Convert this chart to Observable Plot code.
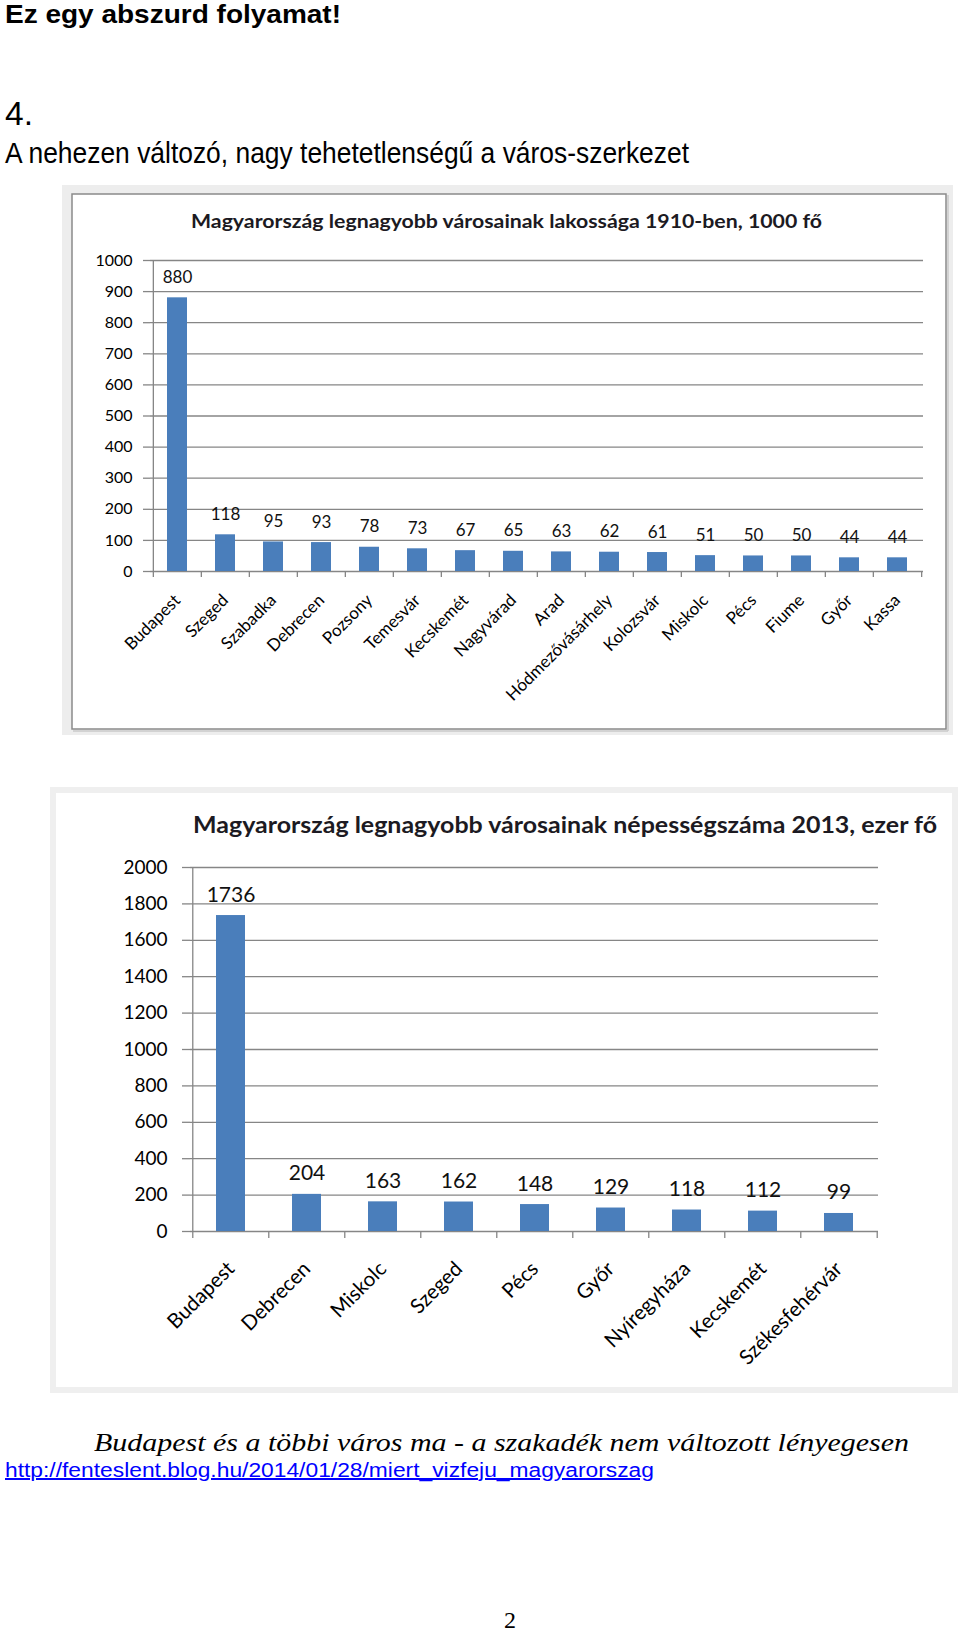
<!DOCTYPE html>
<html>
<head>
<meta charset="utf-8">
<script src="https://cdn.jsdelivr.net/npm/d3@7"></script>
<script src="https://cdn.jsdelivr.net/npm/@observablehq/plot@0.6"></script>
<style>
  html, body { margin: 0; padding: 0; background: #fff; }
  #page { position: relative; width: 960px; height: 1632px; overflow: hidden; }
  #page > svg.bg { position: absolute; left: 0; top: 0; }
  .chart { position: absolute; }
  .chart svg { display: block; background: transparent !important; max-width: none !important; }
  .chart g[aria-label^="y-axis"] line,
  .chart g[aria-label="y-axis tick"] path { stroke: #868686; stroke-width: 1.3; }
  #c1 g[aria-label^="x-axis"] text { font-size: 17px; }
  #c2 g[aria-label^="x-axis"] text { font-size: 20.5px; }
</style>
</head>
<body>
<div id="page">
  <svg class="bg" width="960" height="1632" xmlns="http://www.w3.org/2000/svg">
    <text x="5" y="23" font-family="Liberation Sans, Arial, sans-serif" font-weight="bold" font-size="25" textLength="336" lengthAdjust="spacingAndGlyphs">Ez egy abszurd folyamat!</text>
    <text x="5" y="125" font-family="Liberation Sans, Arial, sans-serif" font-size="34" textLength="28" lengthAdjust="spacingAndGlyphs">4.</text>
    <text x="5" y="163" font-family="Liberation Sans, Arial, sans-serif" font-size="29" textLength="684" lengthAdjust="spacingAndGlyphs">A nehezen változó, nagy tehetetlenségű a város-szerkezet</text>

    <!-- chart 1 frame -->
    <rect x="62" y="185" width="891" height="550" fill="#ededed"/>
    <rect x="72" y="194" width="874" height="535" fill="#ffffff" stroke="#8a8a8a" stroke-width="1.5"/>
    <line x1="73" y1="731" x2="948" y2="731" stroke="#c8c8c8" stroke-width="1.5"/>
    <line x1="948" y1="195" x2="948" y2="731" stroke="#c8c8c8" stroke-width="1.5"/>
    <text x="191" y="228" font-family="Lato, sans-serif" font-weight="bold" font-size="19" fill="#1c1a22" textLength="631" lengthAdjust="spacingAndGlyphs">Magyarország legnagyobb városainak lakossága 1910-ben, 1000 fő</text>

    <!-- chart 2 frame -->
    <rect x="50" y="787" width="908" height="606" fill="#efefef"/>
    <rect x="56" y="793" width="896" height="594" fill="#ffffff"/>
    <text x="193" y="833" font-family="Lato, sans-serif" font-weight="bold" font-size="22" fill="#1c1a22" textLength="744" lengthAdjust="spacingAndGlyphs">Magyarország legnagyobb városainak népességszáma 2013, ezer fő</text>

    <text x="94" y="1451" font-family="Liberation Serif, serif" font-style="italic" font-size="26" textLength="815" lengthAdjust="spacingAndGlyphs">Budapest és a többi város ma - a szakadék nem változott lényegesen</text>
    <text x="5" y="1477" font-family="Liberation Sans, Arial, sans-serif" font-size="20" fill="#0000ff" text-decoration="underline" textLength="649" lengthAdjust="spacingAndGlyphs">http://fenteslent.blog.hu/2014/01/28/miert_vizfeju_magyarorszag</text>
    <text x="504" y="1628" font-family="Liberation Serif, serif" font-size="24">2</text>
  </svg>
  <div id="c1" class="chart" style="left:72px; top:194px; width:874px; height:535px;"></div>
  <div id="c2" class="chart" style="left:56px; top:793px; width:896px; height:594px;"></div>
</div>
<script>
// ---- data ----
const cities1910 = ["Budapest", "Szeged", "Szabadka", "Debrecen", "Pozsony", "Temesvár", "Kecskemét", "Nagyvárad", "Arad", "Hódmezővásárhely", "Kolozsvár", "Miskolc", "Pécs", "Fiume", "Győr", "Kassa"];
const pop1910 = [880, 118, 95, 93, 78, 73, 67, 65, 63, 62, 61, 51, 50, 50, 44, 44];
const ticks1910 = [0, 100, 200, 300, 400, 500, 600, 700, 800, 900, 1000];

const cities2013 = ["Budapest", "Debrecen", "Miskolc", "Szeged", "Pécs", "Győr", "Nyíregyháza", "Kecskemét", "Székesfehérvár"];
const pop2013 = [1736, 204, 163, 162, 148, 129, 118, 112, 99];
const ticks2013 = [0, 200, 400, 600, 800, 1000, 1200, 1400, 1600, 1800, 2000];

const barColor = "#4a7ebb";
const gridColor = "#868686";

function chart(o) {
  const data = o.cities.map((c, i) => ({city: c, value: o.values[i]}));
  const n = o.cities.length;
  const step = (o.width - o.ml - o.mr) / n;
  const ymax = o.ticks[o.ticks.length - 1];
  const tickLen = o.bottomTick / (o.height - o.mt - o.mb) * ymax;
  return Plot.plot({
    width: o.width, height: o.height,
    marginLeft: o.ml, marginRight: o.mr, marginTop: o.mt, marginBottom: o.mb,
    style: {fontFamily: "Lato, sans-serif", fontSize: o.font + "px", color: "#000", background: "transparent"},
    x: {domain: o.cities, paddingInner: o.pad, paddingOuter: o.pad / 2, label: null,
        tickRotate: -45, tickSize: 0, tickPadding: o.xPad},
    y: {domain: [0, ymax], ticks: o.ticks, label: null, tickSize: o.ySize, tickPadding: o.yPad, tickFormat: d => String(d)},
    marks: [
      Plot.ruleY(o.ticks, {stroke: gridColor, strokeWidth: 1.3}),
      Plot.ruleX([o.cities[0]], {x: d => d, dx: -step / 2, y1: 0, y2: ymax, stroke: gridColor, strokeWidth: 1.3}),
      Plot.ruleX(o.cities, {x: d => d, dx: -step / 2, y1: 0, y2: -tickLen, stroke: gridColor, strokeWidth: 1.3}),
      Plot.ruleX([o.cities[n - 1]], {x: d => d, dx: step / 2, y1: 0, y2: -tickLen, stroke: gridColor, strokeWidth: 1.3}),
      Plot.barY(data, {x: "city", y: "value", fill: barColor}),
      Plot.text(data, {x: "city", y: "value", text: d => String(d.value), lineAnchor: "bottom", dy: o.labelDy, fontSize: o.valueFont, fill: "#111"})
    ]
  });
}

document.getElementById("c1").appendChild(chart({
  cities: cities1910, values: pop1910, ticks: ticks1910,
  width: 874, height: 535, ml: 78, mr: 23, mt: 66, mb: 158,
  pad: 0.59, font: 16, valueFont: 17, ySize: 7, yPad: 11, xPad: 26, bottomTick: 6, labelDy: -15
}));

document.getElementById("c2").appendChild(chart({
  cities: cities2013, values: pop2013, ticks: ticks2013,
  width: 896, height: 594, ml: 134, mr: 74, mt: 74, mb: 156,
  pad: 0.62, font: 19, valueFont: 21, ySize: 8, yPad: 15, xPad: 34, bottomTick: 7, labelDy: -14
}));
</script>
</body>
</html>
